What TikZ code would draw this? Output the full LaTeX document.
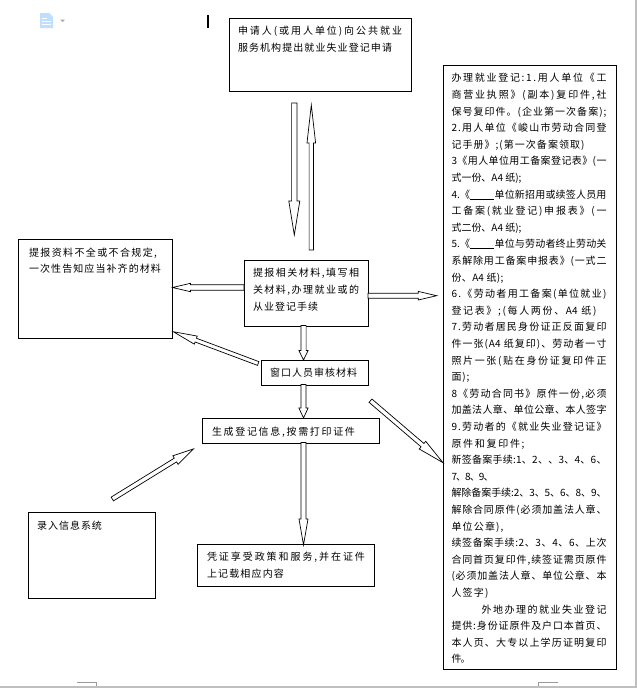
\documentclass[tikz,border=0pt]{standalone}
\usepackage{fontspec}
\setmainfont{Noto Sans CJK SC}
\usetikzlibrary{calc}
\makeatletter
\newcommand\J[2]{\leavevmode\hbox to #1{\@tfor\chr:=#2\do{\chr\hskip 0pt plus 1fil minus 1pt}\unskip}}
\makeatother
\newcommand\blank{\rule[-1pt]{24pt}{.5pt}}
% block arrow: tail, tip, half shaft, half head, head length
\newcommand\blockarrow[5]{%
  \coordinate (hb) at ($(#2)!#5pt!(#1)$);
  \draw[blockline]
    ($(#1)!#3pt!90:(#2)$) -- ($(hb)!#3pt!-90:(#1)$) -- ($(hb)!#4pt!-90:(#1)$) -- (#2)
    -- ($(hb)!#4pt!90:(#1)$) -- ($(hb)!#3pt!90:(#1)$) -- ($(#1)!#3pt!-90:(#2)$) -- cycle;}
\tikzset{
  x=1pt,y=-1pt,
  blockline/.style={draw=black,fill=white,line width=.7pt,line join=miter},
  tbox/.style={draw=black,fill=white,line width=.9pt,anchor=north west,inner sep=0pt,outer sep=0pt,
    font=\fontsize{10}{16.6}\selectfont},
  gline/.style={draw=black!40,line width=.6pt},
}
\begin{document}
\begin{tikzpicture}
\useasboundingbox (0,0) rectangle (637,688);
\fill[white] (0,0) rectangle (637,688);
% window chrome
\fill[black!25] (0,686) rectangle (637,688);
\fill[black!25] (635,0) rectangle (637,688);
\draw[gline] (77,682.5) -- (96,682.5) -- (96,686);
\draw[gline] (558,682.5) -- (538,682.5) -- (538,686);
\fill[black] (207,15) rectangle (209,28);
\fill[blue!50!cyan!25] (40,13) -- (49,13) -- (53,17) -- (53,28) -- (40,28) -- cycle;
\draw[white,line width=.7pt] (42,18) -- (47,18) (42,21) -- (51,21) (42,24) -- (51,24);
\fill[black!35] (60,19.5) -- (65,19.5) -- (62.5,22) -- cycle;
% boxes
\node[tbox] (apply) at (229,18) {\hspace{9pt}\parbox[t][73pt][t]{173pt}{\vspace{8.5pt}\J{164pt}{申请人(或用人单位)向公共就业}\\\J{154pt}{服务机构提出就业失业登记申请}}};
\node[tbox] (missing) at (18,239) {\hspace{11pt}\parbox[t][99pt][t]{143.5pt}{\vspace{8.5pt}\J{128pt}{提报资料不全或不合规定,}\\\J{132pt}{一次性告知应当补齐的材料}}};
\node[tbox] (submit) at (244,260) {\hspace{9pt}\parbox[t][66pt][t]{115pt}{\vspace{8.5pt}\J{106pt}{提报相关材料,填写相}\\\J{106pt}{关材料,办理就业或的}\\\J{65pt}{从业登记手续}}};
\node[tbox] (check) at (261,360) {\hspace{9pt}\parbox[t][25pt][t]{98pt}{\vspace{8.5pt}\J{87pt}{窗口人员审核材料}}};
\node[tbox] (print) at (202,418) {\hspace{10pt}\parbox[t][25pt][t]{167pt}{\vspace{8.5pt}\J{143pt}{生成登记信息,按需打印证件}}};
\node[tbox] (enjoy) at (197,544) {\hspace{10pt}\parbox[t][42pt][t]{167pt}{\vspace{8.5pt}\J{158pt}{凭证享受政策和服务,并在证件}\\\J{77pt}{上记载相应内容}}};
\node[tbox] (entry) at (28,512) {\hspace{9pt}\parbox[t][86pt][t]{118pt}{\vspace{8.5pt}\J{65pt}{录入信息系统}}};
\node[tbox] (docs) at (443,65) {\hspace{8.5pt}\parbox[t][604pt][t]{164.5pt}{\vspace{8.5pt}%
\J{155pt}{办理就业登记:1.用人单位《工}\\
\J{155pt}{商营业执照》(副本)复印件,社}\\
\J{155pt}{保号复印件。(企业第一次备案);}\\
\J{155pt}{2.用人单位《峻山市劳动合同登}\\
\J{133pt}{记手册》;(第一次备案领取)}\\
\J{155pt}{3《用人单位用工备案登记表》(一}\\
\J{70pt}{式一份、{A4 }纸);}\\
\J{155pt}{4.《{\blank}单位新招用或续签人员用}\\
\J{155pt}{工备案(就业登记)申报表》(一}\\
\J{70pt}{式二份、{A4 }纸);}\\
\J{155pt}{5.《{\blank}单位与劳动者终止劳动关}\\
\J{155pt}{系解除用工备案申报表》(一式二}\\
\J{52pt}{份、{A4 }纸);}\\
\J{155pt}{6.《劳动者用工备案(单位就业)}\\
\J{145pt}{登记表》;(每人两份、{A4 }纸)}\\
\J{155pt}{7.劳动者居民身份证正反面复印}\\
\J{155pt}{件一张({A4 }纸复印)、劳动者一寸}\\
\J{155pt}{照片一张(贴在身份证复印件正}\\
\J{18pt}{面);}\\
\J{155pt}{8《劳动合同书》原件一份,必须}\\
\J{155pt}{加盖法人章、单位公章、本人签字}\\
\J{155pt}{9.劳动者的《就业失业登记证》}\\
\J{73pt}{原件和复印件;}\\
\J{155pt}{新签备案手续:1、2、、3、4、6、}\\
\J{42pt}{7、8、9、}\\
\J{155pt}{解除备案手续:2、3、5、6、8、9、}\\
\J{155pt}{解除合同原件(必须加盖法人章、}\\
\J{52pt}{单位公章),}\\
\J{155pt}{续签备案手续:2、3、4、6、上次}\\
\J{155pt}{合同首页复印件,续签证需页原件}\\
\J{155pt}{(必须加盖法人章、单位公章、本}\\
\J{37pt}{人签字)}\\
\hspace*{30pt}\J{125pt}{外地办理的就业失业登记}\\
\J{155pt}{提供:身份证原件及户口本首页、}\\
\J{155pt}{本人页、大专以上学历证明复印}\\
\J{15pt}{件。}}};
% connector ends
\coordinate (a1) at (294.3,103); \coordinate (a1e) at (294.3,235);
\coordinate (a2) at (311.3,250); \coordinate (a2e) at (311.3,105);
\coordinate (a3) at (submit.west |- 0,287.5); \coordinate (a3e) at (missing.east |- 0,287.5);
\coordinate (a4) at (submit.east |- 0,295.7); \coordinate (a4e) at (436.7,295.7);
\coordinate (a5) at (303.5,325.5); \coordinate (a5e) at (303.5,360);
\coordinate (a6) at (258.2,363.5); \coordinate (a6e) at (173.3,331.7);
\coordinate (a7) at (303.5,384.5); \coordinate (a7e) at (303.5,418);
\coordinate (a8) at (370.5,400.7); \coordinate (a8e) at (443,462.7);
\coordinate (a9) at (112.3,499); \coordinate (a9e) at (193.3,449);
\coordinate (a10) at (303.5,442.5); \coordinate (a10e) at (303.5,545);
\blockarrow{a1}{a1e}{2.7}{5.5}{34}
\blockarrow{a2}{a2e}{2.2}{4.3}{38}
\blockarrow{a3}{a3e}{2.7}{4.2}{18}
\blockarrow{a4}{a4e}{2.5}{4.3}{18.5}
\blockarrow{a5}{a5e}{2.6}{4.6}{9.5}
\blockarrow{a6}{a6e}{2}{4.3}{24}
\blockarrow{a7}{a7e}{2.5}{4.6}{10}
\blockarrow{a8}{a8e}{2.2}{5}{27}
\blockarrow{a9}{a9e}{2.2}{5}{21}
\blockarrow{a10}{a10e}{2.5}{4.5}{26}
\end{tikzpicture}
\end{document}
